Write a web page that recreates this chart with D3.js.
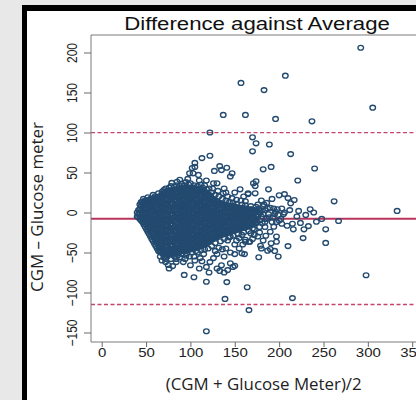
<!DOCTYPE html>
<html lang="en">
<head>
<meta charset="UTF-8">
<script src="https://d3js.org/d3.v7.min.js"></script>
<title>Difference against Average</title>
<style>
  body { margin: 0; background: #e8e8e8; }
  svg { display: block; }
</style>
</head>
<body>
<div id="chart"></div>
<script>
// ---- data ----
const xTicks = [0, 50, 100, 150, 200, 250, 300, 350];
const yTicks = [-150, -100, -50, 0, 50, 100, 150, 200];
const meanDiff = -7.8;
const upperLimit = 99.8;
const lowerLimit = -115;

// dense core of the cloud: [average, [differences...]]
const denseColumns = [
  [40, [-5, 0]],
  [43, [-8, -2, 4, 10]],
  [46, [-12, -6, 1, 7, 13]],
  [49, [-18, -12, -6, 0, 6, 12, 15]],
  [52, [-24, -18, -11, -5, 2, 8, 14]],
  [55, [-30, -24, -17, -11, -4, 2, 9, 15, 17]],
  [58, [-36, -29, -23, -16, -10, -3, 3, 10, 16]],
  [61, [-42, -35, -29, -22, -16, -9, -3, 4, 10, 17]],
  [64, [-48, -41, -35, -28, -22, -15, -9, -2, 4, 11, 17, 20]],
  [67, [-50, -44, -38, -31, -25, -18, -12, -5, 1, 8, 14, 21]],
  [70, [-52, -46, -40, -33, -27, -20, -14, -7, -1, 6, 12, 19, 24]],
  [73, [-52, -47, -41, -35, -28, -22, -15, -9, -2, 4, 11, 17, 23, 26]],
  [76, [-51, -45, -38, -32, -25, -19, -12, -6, 1, 7, 14, 20, 27]],
  [79, [-52, -46, -40, -33, -27, -20, -14, -7, -1, 6, 12, 19, 25, 28]],
  [82, [-50, -44, -37, -31, -24, -18, -11, -5, 2, 8, 15, 21, 28]],
  [85, [-50, -44, -38, -32, -25, -19, -12, -6, 1, 7, 14, 20, 26, 29]],
  [88, [-49, -43, -36, -30, -23, -17, -10, -4, 3, 9, 16, 22, 29]],
  [91, [-48, -42, -36, -29, -23, -16, -10, -3, 3, 10, 16, 23, 30]],
  [94, [-48, -41, -35, -28, -22, -15, -9, -2, 4, 11, 17, 24, 30]],
  [97, [-47, -41, -34, -28, -21, -15, -8, -2, 5, 11, 18, 24, 31]],
  [100, [-46, -40, -33, -27, -20, -14, -7, -1, 6, 12, 19, 25, 31]],
  [103, [-45, -39, -32, -26, -19, -13, -6, 0, 7, 13, 20, 26, 31]],
  [106, [-44, -37, -31, -24, -18, -11, -5, 2, 8, 15, 21, 27, 30]],
  [109, [-43, -36, -30, -23, -17, -10, -4, 3, 9, 16, 22, 29]],
  [112, [-42, -35, -29, -22, -16, -9, -3, 4, 10, 17, 23, 28]],
  [115, [-40, -34, -27, -21, -14, -8, -1, 5, 12, 18, 24, 27]],
  [118, [-38, -32, -25, -19, -12, -6, 1, 7, 14, 20, 25]],
  [121, [-36, -30, -23, -17, -10, -4, 3, 9, 15, 22]],
  [124, [-34, -28, -21, -15, -8, -2, 5, 11, 18]],
  [127, [-32, -26, -19, -13, -6, 0, 6, 12, 15]],
  [130, [-30, -24, -17, -11, -4, 2, 8, 13]],
  [133, [-28, -22, -16, -9, -3, 4, 10, 12]],
  [136, [-27, -21, -14, -8, -1, 5, 11]],
  [139, [-26, -19, -13, -6, 0, 6, 10]],
  [142, [-25, -18, -12, -5, 1, 7, 9]],
  [145, [-24, -17, -11, -4, 2, 8]],
  [148, [-23, -16, -10, -3, 3, 8]],
  [151, [-22, -15, -9, -2, 4, 7]],
  [154, [-21, -14, -8, -1, 5]],
  [157, [-20, -13, -7, 0, 6]],
  [160, [-19, -12, -6, 1, 5]],
  [163, [-18, -11, -5, 2, 5]],
  [166, [-16, -10, -3, 3]],
  [169, [-15, -8, -2, 4]],
  [172, [-14, -7, -1, 3]],
  [175, [-12, -5, 2]]
];

// more points of the core, lying between the columns above
const denseColumnsB = [
  [41.5, [-6, -2, 3]],
  [44.5, [-10, -4, 2, 8, 13]],
  [47.5, [-15, -9, -3, 4, 10, 14]],
  [50.5, [-21, -15, -8, -2, 5, 11, 15]],
  [53.5, [-27, -20, -14, -7, -1, 5, 12, 16]],
  [56.5, [-33, -26, -20, -13, -7, 0, 6, 13, 17]],
  [59.5, [-39, -32, -26, -19, -13, -6, 0, 7, 13, 18]],
  [62.5, [-45, -38, -32, -25, -19, -12, -6, 1, 7, 14, 19]],
  [65.5, [-49, -44, -38, -31, -25, -18, -12, -5, 1, 8, 14, 20]],
  [68.5, [-51, -47, -41, -34, -28, -21, -15, -8, -2, 5, 11, 18, 22]],
  [71.5, [-52, -49, -43, -37, -30, -24, -17, -11, -4, 2, 9, 15, 21, 25]],
  [74.5, [-52, -48, -42, -36, -29, -23, -16, -10, -3, 3, 10, 16, 22, 26]],
  [77.5, [-51, -48, -42, -35, -29, -22, -16, -9, -3, 4, 10, 17, 23, 27]],
  [80.5, [-51, -47, -41, -34, -28, -21, -15, -8, -2, 5, 11, 18, 24, 28]],
  [83.5, [-50, -47, -41, -35, -28, -22, -15, -9, -2, 4, 11, 17, 24, 29]],
  [86.5, [-49, -46, -40, -33, -27, -20, -14, -7, -1, 6, 12, 19, 25, 29]],
  [89.5, [-48, -45, -39, -32, -26, -19, -13, -6, 0, 7, 13, 20, 26, 30]],
  [92.5, [-48, -45, -38, -32, -25, -19, -12, -6, 1, 7, 14, 20, 27, 30]],
  [95.5, [-47, -44, -38, -31, -25, -18, -12, -5, 1, 8, 14, 21, 27, 31]],
  [98.5, [-46, -43, -37, -30, -24, -17, -11, -4, 2, 9, 15, 22, 28, 31]],
  [101.5, [-45, -42, -36, -29, -23, -16, -10, -3, 3, 10, 16, 23, 29]],
  [104.5, [-44, -41, -35, -28, -22, -15, -9, -2, 4, 11, 17, 24, 29]],
  [107.5, [-43, -40, -34, -27, -21, -14, -8, -1, 5, 12, 18, 25, 29]],
  [110.5, [-42, -39, -32, -26, -19, -13, -6, 0, 7, 13, 20, 26]],
  [113.5, [-41, -38, -31, -25, -18, -12, -5, 1, 8, 14, 21, 26]],
  [116.5, [-39, -36, -30, -24, -17, -11, -4, 2, 9, 15, 21, 25]],
  [119.5, [-37, -35, -28, -22, -15, -9, -2, 4, 11, 17, 23]],
  [122.5, [-35, -33, -26, -20, -13, -7, 0, 6, 12, 18, 21]],
  [125.5, [-33, -31, -24, -18, -11, -5, 2, 8, 14, 17]],
  [128.5, [-31, -29, -22, -16, -9, -3, 3, 9, 14]],
  [131.5, [-29, -27, -20, -14, -7, -1, 5, 10, 12]],
  [134.5, [-28, -25, -19, -12, -6, 1, 7, 11]],
  [137.5, [-26, -24, -17, -11, -4, 2, 8, 10]],
  [140.5, [-25, -22, -16, -9, -3, 3, 8]],
  [143.5, [-24, -21, -14, -8, -1, 5, 8]],
  [146.5, [-23, -20, -13, -7, 0, 5, 8]],
  [149.5, [-22, -19, -12, -6, 1, 6]],
  [152.5, [-21, -18, -11, -5, 2, 6]],
  [155.5, [-20, -17, -10, -4, 3, 6]],
  [158.5, [-19, -16, -9, -3, 3, 5]],
  [161.5, [-18, -15, -8, -2, 3, 5]],
  [164.5, [-17, -13, -7, -1, 4]],
  [167.5, [-15, -12, -6, 0, 4]],
  [170.5, [-14, -11, -5, 1, 3]],
  [173.5, [-13, -9, -3, 2]]
];

// loose points along the edges of the core
const edgePoints = [
  [60, 20], [64, 24], [70, 28], [76, 31], [82, 32], [88, 33], [93, 34], [98, 35],
  [104, 34], [108, 33], [114, 31], [118, 29], [124, 25], [128, 22], [132, 20],
  [136, 17], [140, 15], [144, 13], [148, 12], [152, 11], [158, 10], [162, 9],
  [168, 8], [174, 7], [125, 30], [131, 27], [137, 24], [142, 20], [147, 18],
  [152, 16], [157, 15], [162, 14], [160, 20], [140, 25], [116, 34], [110, 40],
  [97, 42], [88, 41], [79, 37], [68, 26], [58, 22], [52, 19], [47, 17],
  [70, -56], [74, -55], [82, -55], [86, -53], [90, -52], [96, -51], [102, -50],
  [106, -48], [112, -47], [116, -46], [124, -42], [128, -38], [134, -36],
  [138, -33], [144, -31], [148, -29], [154, -27], [160, -25], [166, -23],
  [172, -21], [178, -18], [84, -58], [94, -58], [104, -55], [113, -61],
  [130, -52], [136, -46], [152, -35], [159, -40], [170, -33], [176, -30],
  [182, -35], [178, -10], [180, 2], [182, -2], [184, -12], [187, 5], [189, -6],
  [192, -12], [195, -2], [198, 4], [200, -10], [203, -14], [206, 0], [183, 10],
  [176, -5], [177, 4]
];

// scattered points around the core and outliers: [average, difference]
const scatterPoints = [
  [72, 30], [78, 33], [84, 34], [90, 36], [95, 38], [100, 36.5], [85, 38.5],
  [103, 49], [99, 49], [102, 55.6], [105, 62], [113, 68], [122, 71], [105, 57],
  [109, 47], [127, 52], [133, 58], [141, 56], [147, 49], [130, 36.5], [126, 36.5],
  [135, 53], [145, 45], [118, 40], [112, 35], [121, 30], [138, 30], [150, 25],
  [156, 29], [165, 24], [171, 36.5], [174, 39], [173, 33], [173, 24], [165, 23],
  [182, 54], [191, 57], [170, 76.5], [174, 86.5], [189, 85], [170, 94], [213, 73],
  [221, 40], [240, 55], [188, 29], [192, 17], [200, 21.5], [206, 23], [210, 18],
  [217, 15.6], [213, 11.5], [182, 8], [194, 5], [203, 5], [222, 2], [235, 4],
  [239, 0], [248, -8], [242, -11.5], [267, -10.6], [224, -13], [215, -14],
  [252.5, -21], [209, -16.5], [181, -13.5], [194, -17.7], [197, -12], [170, -20],
  [185, -29], [216, -21], [228, -21], [227, -32], [252.5, -38], [210, -42],
  [197, -30], [197, -36.5], [191, -38.5], [179, -41.5], [162, -36.5], [166, -36.5],
  [190, -45.6], [195, -48], [180, -45], [187, -47.7], [199, -55], [177, -56],
  [150, -52], [161, -52], [150, -66.5], [262, 14], [333, 2], [298, -78.5],
  [178, 0], [180, -5], [184, 3], [186, -8], [188, -2], [190, 6], [193, -6],
  [196, 1], [199, -3], [202, -8], [186, 12], [180, 15], [176, 10], [184, -18],
  [190, -24], [178, -25], [172, -28], [168, -26], [158, -28], [155, -32],
  [142, -35], [145, -30], [205, -2], [212, 3], [220, -5], [230, -3], [233, -17],
  [66, -55], [68, -60], [75, -65.6], [80, -67], [84, -62], [72, -58], [78, -58],
  [88, -56], [99, -55], [111, -57], [118, -68], [126, -57], [130, -70], [135, -66],
  [145, -63.5], [148, -68], [158, -51], [162, -34], [167, -36.5], [93, -78],
  [104, -81], [118, -86.5], [141, -87], [164, -93.5], [139, -108], [215, -107],
  [166, -122], [118, -148.5], [92, -62], [105, -60], [122, -62], [138, -55],
  [115, -52], [128, -48], [140, -45], [132, -44], [120, -45], [108, -50],
  [95, -54], [150, -40], [155, -45], [145, -50], [138, -75], [133, -73],
  [142, -72], [121, -75], [110, -70], [100, -66], [76, -70], [72, -62],
  [292, 206], [305.5, 131], [157, 162], [183, 153], [207, 171], [137, 122],
  [162, 122], [196, 117], [237, 114], [122, 100]
];

// ---- layout ----
const W = 416, H = 400;
const plotLeft = 91, plotTop = 35, plotBottom = 342;
const xStretch = 1.2; // the original picture is stretched sideways

const svg = d3.select("#chart").append("svg")
  .attr("width", W)
  .attr("height", H);

svg.append("rect").attr("width", W).attr("height", H).attr("fill", "#e8e8e8");
// black frame (only top and left visible)
svg.append("rect").attr("x", 22).attr("y", 5).attr("width", 500).attr("height", 500).attr("fill", "#000");
svg.append("rect").attr("x", 27).attr("y", 11).attr("width", 500).attr("height", 500).attr("fill", "#fff");

const x = d3.scaleLinear().domain([0, 350]).range([101.7, 412.2]);
const y = d3.scaleLinear().domain([0, 200]).range([212.5, 52.5]);

// reference lines
const lineG = svg.append("g");
lineG.append("line")
  .attr("x1", plotLeft).attr("x2", W)
  .attr("y1", y(meanDiff)).attr("y2", y(meanDiff))
  .attr("stroke", "#b8345c").attr("stroke-width", 2);
[upperLimit, lowerLimit].forEach(v => {
  lineG.append("line")
    .attr("x1", plotLeft).attr("x2", W)
    .attr("y1", y(v)).attr("y2", y(v))
    .attr("stroke", "#c4456a").attr("stroke-width", 1.3)
    .attr("stroke-dasharray", "4,2.5");
});

// points
const toPairs = cols => cols.flatMap(([a, ds]) => ds.map(d => [a, d]));
const points = toPairs(denseColumns).concat(toPairs(denseColumnsB), edgePoints, scatterPoints);
svg.append("g")
  .selectAll("ellipse")
  .data(points)
  .join("ellipse")
  .attr("cx", d => x(d[0]))
  .attr("cy", d => y(d[1]))
  .attr("rx", 2.8)
  .attr("ry", 2.4)
  .attr("fill", "none")
  .attr("stroke", "#234a6f")
  .attr("stroke-width", 1.35);

// box
svg.append("path")
  .attr("d", `M${W},${plotTop}H${plotLeft}V${plotBottom}H${W}`)
  .attr("fill", "none").attr("stroke", "#7a7a7a").attr("stroke-width", 1);

// axes
const xAxis = svg.append("g")
  .attr("transform", `translate(0,${plotBottom})`)
  .call(d3.axisBottom(x).tickValues(xTicks).tickSize(5).tickSizeOuter(0));
xAxis.select(".domain").remove();
xAxis.selectAll("line").attr("stroke", "#6a6a6a");
xAxis.selectAll("text")
  .attr("y", null).attr("dy", null)
  .attr("transform", `translate(0,15) scale(${xStretch},1)`)
  .attr("font-family", "Liberation Sans, Arial, sans-serif")
  .attr("font-size", 12.5)
  .attr("fill", "#222");

const yAxis = svg.append("g")
  .attr("transform", `translate(${plotLeft},0)`)
  .call(d3.axisLeft(y).tickValues(yTicks).tickSize(7).tickSizeOuter(0));
yAxis.select(".domain").remove();
yAxis.selectAll("line").attr("stroke", "#6a6a6a");
yAxis.selectAll("text")
  .attr("x", null).attr("dy", null)
  .attr("text-anchor", "middle")
  .attr("transform", `translate(-14.5,0) scale(${xStretch},1) rotate(-90)`)
  .attr("font-family", "Liberation Sans, Arial, sans-serif")
  .attr("font-size", 12)
  .attr("fill", "#222");

// titles
svg.append("text")
  .attr("transform", `translate(257,29.5) scale(${xStretch},1)`)
  .attr("text-anchor", "middle")
  .attr("font-family", "Liberation Sans, Arial, sans-serif")
  .attr("font-size", 18.5)
  .attr("fill", "#111")
  .text("Difference against Average");

svg.append("text")
  .attr("x", 263.7).attr("y", 390)
  .attr("text-anchor", "middle")
  .attr("font-family", "Open Sans, sans-serif")
  .attr("font-size", 17)
  .attr("textLength", 196)
  .attr("lengthAdjust", "spacingAndGlyphs")
  .attr("fill", "#222")
  .text("(CGM + Glucose Meter)/2");

svg.append("text")
  .attr("transform", "translate(43,207) rotate(-90)")
  .attr("text-anchor", "middle")
  .attr("font-family", "Open Sans, sans-serif")
  .attr("font-size", 16)
  .attr("textLength", 170)
  .attr("lengthAdjust", "spacingAndGlyphs")
  .attr("fill", "#222")
  .text("CGM – Glucose meter");
</script>
</body>
</html>
